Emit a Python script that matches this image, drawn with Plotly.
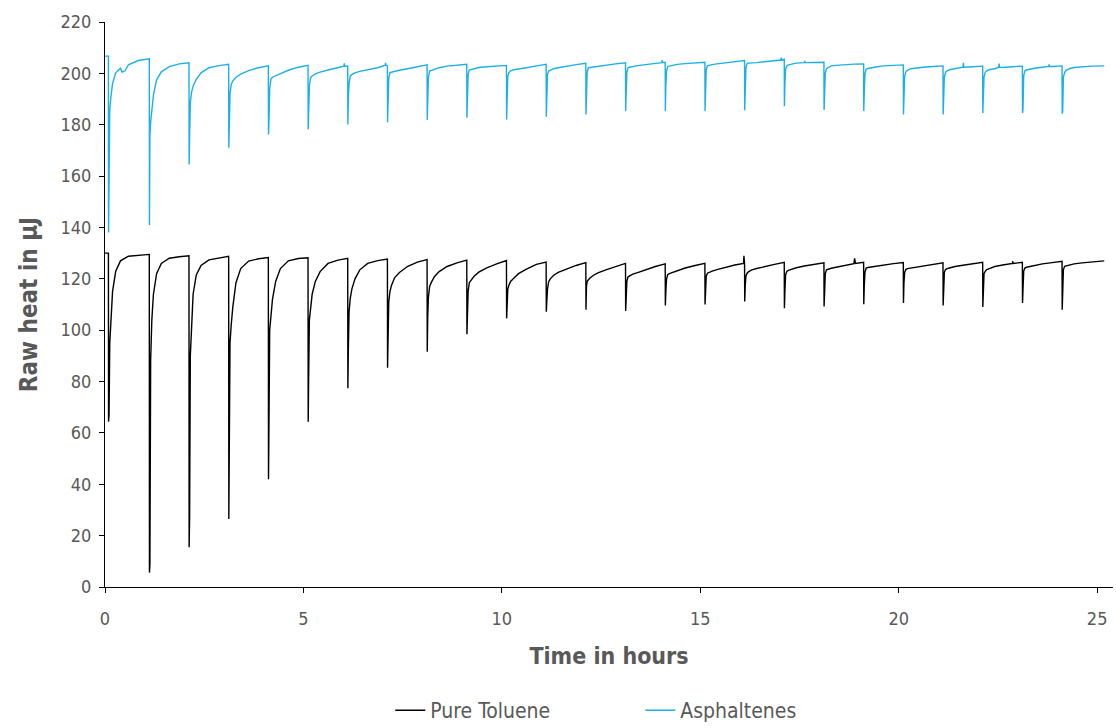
import plotly.graph_objects as go

# ---------------- data ----------------
# common offsets (hours after each injection dip) of recovery readings
RECOVERY_OFFSETS = [0.03, 0.06, 0.10, 0.18, 0.30, 0.50, 0.75]

DIP_HOURS = [0.09, 1.12, 2.12, 3.12, 4.12, 5.12, 6.12, 7.12, 8.12, 9.12, 10.12, 11.12,
             12.12, 13.12, 14.12, 15.12, 16.12, 17.12, 18.12, 19.12, 20.12, 21.12,
             22.12, 23.12, 24.12]
END_HOUR = 25.18

# Pure Toluene
TOL_START = 130.0
TOL_DIP_MIN = [64.4, 5.6, 15.5, 26.5, 42, 64.3, 77.4, 85.4, 91.6, 98.4, 104.6, 107.2,
               108, 107.5, 109.6, 110, 111.2, 108.5, 109.2, 110.1, 110.6, 109.6, 109,
               110.6, 108]
TOL_DIP_BASE = [67, 9, 27, 45, 64, 82, 92.5, 100, 105, 110, 113, 111, 117, 113, 115,
                116, 117, 115, 116, 117, 118.3, 119, 119.7, 115.8, 112]
TOL_RECOVERY = [
    [95, 105, 115, 123, 127, 128.8, 129.2],
    [88, 104, 114, 122, 126, 128, 128.6],
    [90, 104, 114, 121.5, 125.2, 127.4, 128.2],
    [95, 102, 109, 118.5, 124, 126.9, 127.8],
    [100, 106, 112, 119, 124, 127, 127.9],
    [104, 109.8, 114, 119, 122.8, 126, 127.3],
    [107, 112.4, 116, 120, 123.5, 126, 127.1],
    [111, 115, 117.5, 120.5, 122.5, 124.8, 126.5],
    [113, 117, 118.5, 120.8, 122.8, 124.8, 126.2],
    [115, 118.5, 119.5, 121, 122.6, 124.3, 125.8],
    [116, 117.6, 119, 120.2, 122, 123.8, 125.6],
    [116, 118.9, 120, 121.3, 122.5, 123.7, 125.2],
    [119, 119.6, 120.3, 121.3, 122.3, 123.5, 124.8],
    [119, 120.8, 121.2, 121.8, 122.4, 123.6, 124.8],
    [120, 121.6, 122, 122.5, 123.2, 124.2, 125.2],
    [121, 122.2, 122.5, 123, 123.6, 124.5, 125.4],
    [121, 122.2, 122.8, 123.5, 124, 124.8, 125.6],
    [121.5, 122.9, 123.3, 123.8, 124.3, 125, 125.6],
    [122, 123.5, 123.8, 124.1, 124.5, 125.1, 125.8],
    [122.5, 124.2, 124.4, 124.6, 124.9, 125.3, 125.9],
    [122.5, 123.6, 124, 124.2, 124.6, 125.1, 125.7],
    [122.5, 123.6, 124, 124.3, 124.8, 125.3, 125.9],
    [122, 122.9, 123.6, 124.1, 124.8, 125.4, 126],
    [123, 124.2, 124.5, 124.8, 125.2, 125.8, 126.3],
    [123.5, 124.9, 125.1, 125.4, 125.8, 126.2, 126.6],
]
TOL_PLATEAU = [129.5, 129, 128.8, 128.3, 128.2, 128, 127.7, 127.5, 127.3, 127.1, 126.5,
               126.3, 126, 125.8, 126, 126, 126.4, 126.2, 126.4, 126.3, 126.2, 126.4,
               126.4, 126.8, 127]
TOL_EXTRA_HOURS = [16.09, 16.10, 18.87, 18.89, 18.91, 22.85, 22.87, 22.89]
TOL_EXTRA_HEAT = [126.0, 129.0, 125.9, 128.0, 126.0, 125.9, 126.8, 126.0]

# Asphaltenes
ASP_START = 206.7
ASP_DIP_MIN = [138, 141, 164.5, 171, 176.2, 178.2, 180.1, 181, 181.8, 182.7, 182, 183.1,
               184, 185.3, 185.3, 185.3, 185.6, 187.2, 185.7, 185.3, 184, 184, 184.6,
               184.6, 184.4]
ASP_DIP_BASE = [179.5, 176, 175, 178, 181.4, 186, 189.9, 192, 193, 196.4, 194.4, 193,
                190, 192, 195, 195, 196, 196, 193, 193, 192, 192, 190, 186, 185]
ASP_RECOVERY = [
    [186, 191, 196, 200.2, 202, 203.3, 205],
    [181, 186, 191.5, 197.5, 200.6, 202.6, 203.7],
    [188.6, 192.5, 195, 197.7, 200.2, 202.2, 203],
    [192, 195.7, 197, 198.5, 199.7, 201.1, 202.2],
    [194, 197.7, 198.5, 199.1, 200, 201.2, 202.4],
    [195, 198.3, 199, 199.8, 200.5, 201.3, 202.3],
    [196, 199, 199.5, 200.2, 200.8, 201.5, 202.2],
    [198, 200.3, 200.5, 200.9, 201.2, 201.8, 202.6],
    [198.5, 200.9, 201.1, 201.5, 202.2, 202.8, 203.1],
    [199.5, 201.3, 201.5, 202, 202.3, 202.6, 202.9],
    [199, 200.3, 201, 201.4, 201.8, 202.2, 202.9],
    [199.5, 200.9, 201.3, 201.8, 202.2, 202.8, 203.4],
    [200.5, 202.2, 202.3, 202.5, 202.8, 203.2, 203.7],
    [200.5, 202.2, 202.4, 202.7, 203, 203.4, 203.9],
    [201, 202.6, 202.8, 203.1, 203.5, 203.8, 204.1],
    [201.5, 202.9, 203.1, 203.4, 203.7, 204, 204.5],
    [202, 203.9, 204, 204.1, 204.2, 204.5, 205],
    [201.5, 202.9, 203.3, 203.6, 204, 204.2, 204.3],
    [200, 201.8, 202.2, 202.9, 203.1, 203.4, 203.6],
    [199.8, 201.6, 201.9, 202.2, 202.5, 202.9, 203.1],
    [198.8, 200.6, 201.2, 201.8, 202.1, 202.4, 202.7],
    [198.5, 200.4, 201, 201.5, 201.9, 202.3, 202.6],
    [198.5, 200.4, 201, 201.5, 201.8, 202.3, 202.6],
    [199, 200.9, 201.3, 201.7, 202, 202.4, 202.7],
    [198.5, 200.3, 201.2, 201.8, 202.3, 202.6, 202.8],
]
ASP_PLATEAU = [205.7, 204.1, 203.5, 202.9, 203.1, 202.9, 202.9, 203.3, 203.5, 203.1,
               203.5, 203.9, 204.1, 204.3, 204.3, 205, 205.5, 204.3, 203.7, 203.3,
               202.9, 202.8, 202.8, 202.9, 202.9]
ASP_EXTRA_HOURS = [0.43, 0.50, 6.02, 6.03, 6.04, 7.06, 7.07, 7.08, 14.03, 14.04, 14.05,
                   17.03, 17.04, 17.05, 17.62, 17.63, 17.64, 21.62, 21.63, 21.64,
                   22.52, 22.53, 22.54, 23.78, 23.79, 23.80]
ASP_EXTRA_HEAT = [200.5, 200.9, 202.8, 203.9, 202.8, 203.2, 204.1, 203.2, 204.2, 205.2,
                  204.2, 205.2, 206.1, 205.2, 204.2, 204.8, 204.2, 202.4, 204.1, 202.4,
                  202.4, 203.8, 202.4, 202.7, 203.5, 202.7]


def build(start, mins, bases, recovery, plateaus, extra_t, extra_v):
    pts = [(0.0, start), (DIP_HOURS[0] - 0.004, start)]
    n = len(DIP_HOURS)
    for i, td in enumerate(DIP_HOURS):
        pts.append((td, mins[i]))
        pts.append((td + 0.012, bases[i]))
        for off, val in zip(RECOVERY_OFFSETS, recovery[i]):
            pts.append((td + off, val))
        t_end = DIP_HOURS[i + 1] - 0.004 if i + 1 < n else END_HOUR
        pts.append((t_end, plateaus[i]))
    pts += list(zip(extra_t, extra_v))
    pts.sort(key=lambda p: p[0])
    return [p[0] for p in pts], [p[1] for p in pts]


tol_x, tol_y = build(TOL_START, TOL_DIP_MIN, TOL_DIP_BASE, TOL_RECOVERY, TOL_PLATEAU,
                     TOL_EXTRA_HOURS, TOL_EXTRA_HEAT)
asp_x, asp_y = build(ASP_START, ASP_DIP_MIN, ASP_DIP_BASE, ASP_RECOVERY, ASP_PLATEAU,
                     ASP_EXTRA_HOURS, ASP_EXTRA_HEAT)

FONT = "DejaVu Sans Condensed, Open Sans, sans-serif"
GRAY = "#595959"

fig = go.Figure()
fig.add_trace(go.Scatter(x=tol_x, y=tol_y, mode="lines", name="Pure Toluene",
                         line=dict(color="#000000", width=1.4)))
fig.add_trace(go.Scatter(x=asp_x, y=asp_y, mode="lines", name="Asphaltenes",
                         line=dict(color="#1cb0ea", width=1.4)))

fig.update_layout(
    width=1116, height=728,
    margin=dict(l=105, r=3, t=22, b=141, autoexpand=False),
    paper_bgcolor="white", plot_bgcolor="white",
    font=dict(family=FONT, color=GRAY, size=16),
    showlegend=True,
    legend=dict(orientation="h", x=0.283, xanchor="left",
                yref="container", y=0.052, yanchor="top",
                font=dict(size=21, color=GRAY, family=FONT),
                entrywidth=205, entrywidthmode="pixels",
                traceorder="normal", bgcolor="rgba(0,0,0,0)"),
    xaxis=dict(range=[0, 25.4], dtick=5, tick0=0, showgrid=False, zeroline=False,
               showline=True, linecolor="#000000", linewidth=1,
               ticks="outside", ticklen=5, tickcolor="#000000",
               ticklabelstandoff=10,
               tickfont=dict(size=18, color=GRAY, family=FONT),
               title=dict(text="<b>Time in hours</b>", standoff=20,
                          font=dict(size=23, color=GRAY, family=FONT))),
    yaxis=dict(range=[0, 220], dtick=20, tick0=0, showgrid=False, zeroline=False,
               showline=True, linecolor="#000000", linewidth=1,
               ticks="outside", ticklen=5, tickcolor="#000000",
               ticklabelstandoff=4,
               tickfont=dict(size=18, color=GRAY, family=FONT),
               title=dict(text="<b>Raw heat in µJ</b>", standoff=16,
                          font=dict(size=24, color=GRAY, family=FONT))),
)

fig.write_html("out.html")
